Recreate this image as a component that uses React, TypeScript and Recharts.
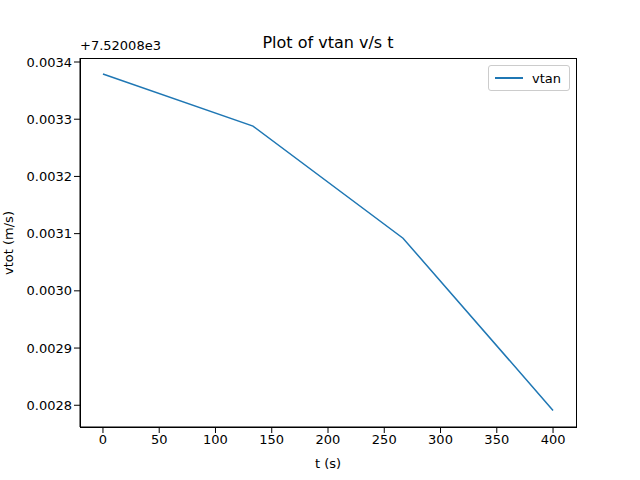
import React from "react";
import { LineChart, Line, XAxis, YAxis } from "recharts";

const tValues = [0, 133.33, 266.67, 400];
const vtanValues = [0.003379, 0.003288, 0.003092, 0.002791];
const xTicks = [0, 50, 100, 150, 200, 250, 300, 350, 400];
const yTicks = [0.0028, 0.0029, 0.003, 0.0031, 0.0032, 0.0033, 0.0034];

const data = tValues.map((t, i) => ({ t, vtan: vtanValues[i] }));
const font = "DejaVu Sans, sans-serif";
const tickStyle = { fill: "#000", fontSize: 13, fontFamily: font };

export default function App() {
  return (
    <div style={{ position: "absolute", left: 0, top: 0, width: 640, height: 480, background: "#fff", fontFamily: font }}>
      <LineChart width={640} height={480} data={data} margin={{ top: 58, right: 64, bottom: 0, left: 0 }}>
        <XAxis dataKey="t" type="number" domain={[-20.4, 420.4]} ticks={xTicks} allowDataOverflow
          tick={tickStyle} stroke="#000" tickLine={{ stroke: "#000" }} height={53}
          label={{ value: "t (s)", position: "insideBottom", offset: 12, style: { fill: "#000", fontSize: 13, fontFamily: font } }} />
        <YAxis type="number" domain={[0.002762, 0.003407]} ticks={yTicks} allowDataOverflow width={80}
          tickFormatter={(v: number) => v.toFixed(4)} tick={tickStyle} stroke="#000" tickLine={{ stroke: "#000" }} />
        <Line type="linear" dataKey="vtan" stroke="#1f77b4" strokeWidth={1.5} dot={false} isAnimationActive={false} />
      </LineChart>
      <div style={{ position: "absolute", left: 80, top: 58, width: 497, height: 370, border: "1px solid #000", boxSizing: "border-box", pointerEvents: "none" }} />
      <div style={{ position: "absolute", left: 8, top: 243, transform: "translate(-50%, -50%) rotate(-90deg)", fontSize: 13, whiteSpace: "nowrap", color: "#000" }}>vtot (m/s)</div>
      <div style={{ position: "absolute", left: 80, top: 38, fontSize: 13, color: "#000" }}>+7.52008e3</div>
      <div style={{ position: "absolute", left: 80, width: 496, top: 33, textAlign: "center", fontSize: 16, color: "#000" }}>Plot of vtan v/s t</div>
      <div style={{ position: "absolute", left: 488, top: 65, width: 82, height: 26, border: "1px solid #ccc", borderRadius: 3, boxSizing: "border-box", display: "flex", alignItems: "center", fontSize: 13 }}>
        <div style={{ width: 28, height: 2, background: "#1f77b4", marginLeft: 6, marginRight: 9 }} />
        <span>vtan</span>
      </div>
    </div>
  );
}
